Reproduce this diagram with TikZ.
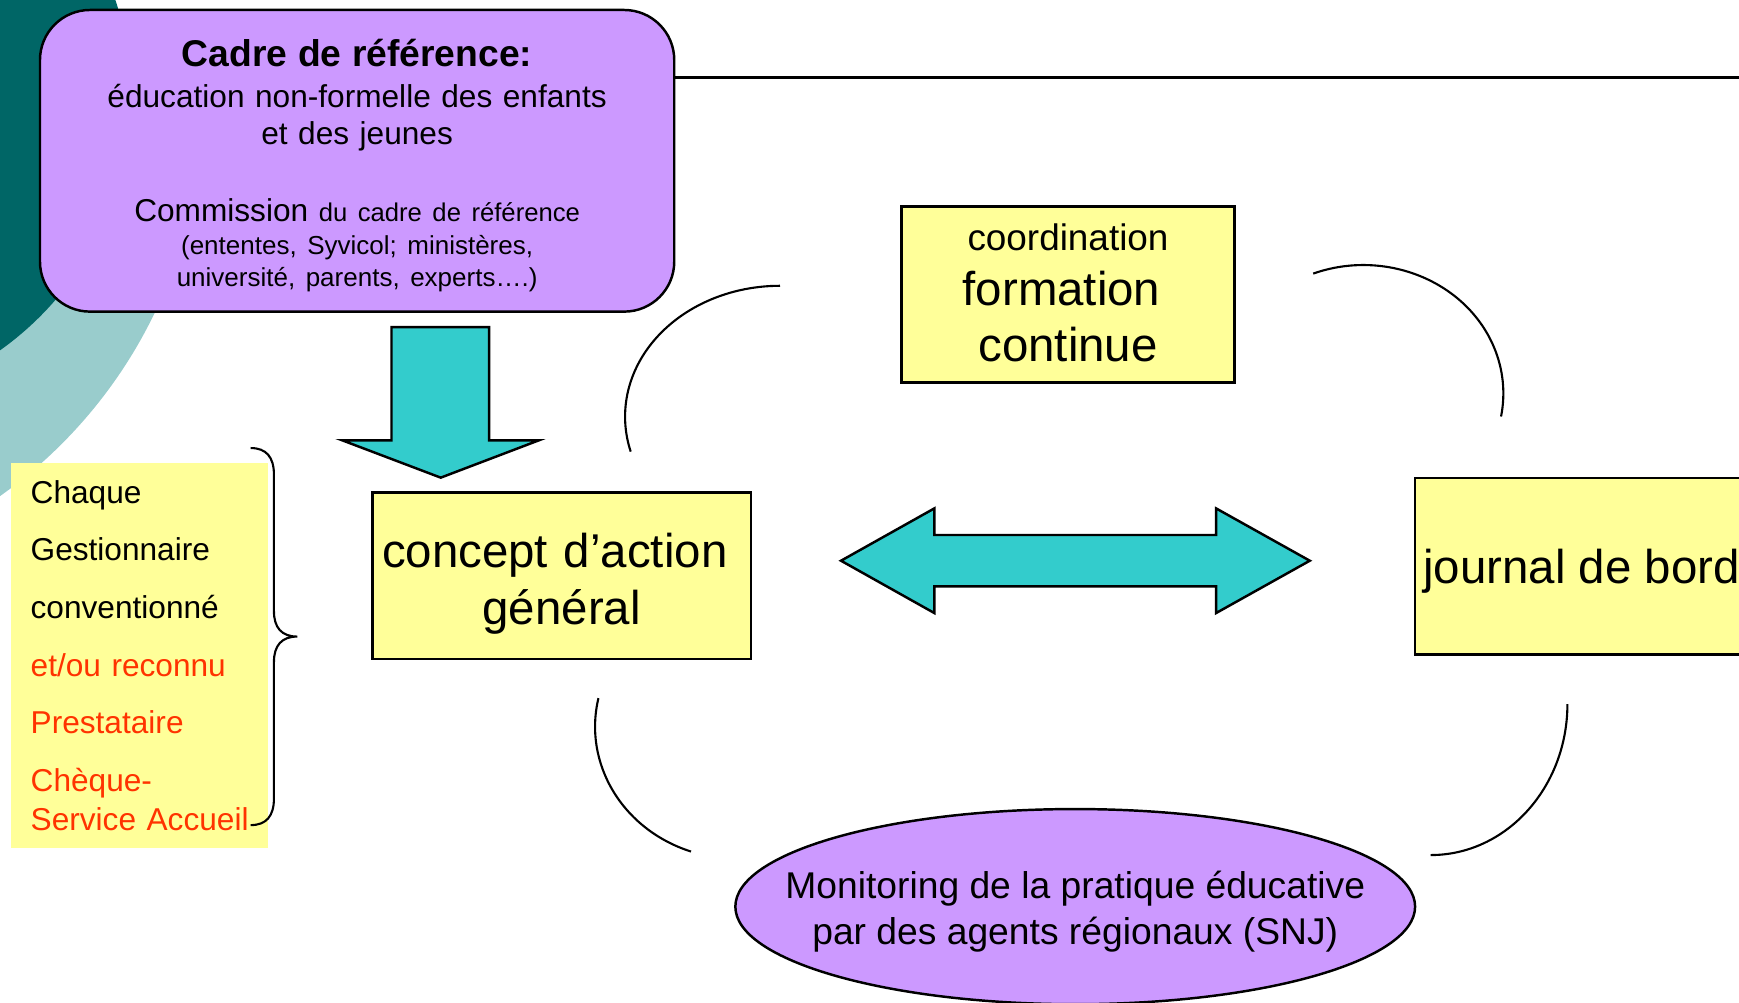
\documentclass[tikz,border=0pt]{standalone}
\usepackage{fontspec}
\setmainfont{Liberation Sans}
\usetikzlibrary{shapes.geometric}

\definecolor{lilac}{HTML}{CC99FF}
\definecolor{paleyellow}{HTML}{FFFF99}
\definecolor{arrowteal}{HTML}{33CCCC}
\definecolor{deepteal}{HTML}{006666}
\definecolor{softteal}{HTML}{99CCCC}
\definecolor{prestred}{HTML}{FF3300}

\tikzset{
  yellowbox/.style={draw=black, line width=0.7pt, fill=paleyellow, inner sep=0pt},
  boxtext/.style={inner sep=0pt, align=center},
  blockarrow/.style={draw=black, line width=0.7pt, fill=arrowteal, line join=miter},
  cyclearc/.style={black, line width=0.6pt},
}

\begin{document}
\begin{tikzpicture}[x=0.011091cm, y=-0.011091cm]
  \useasboundingbox (0,0) rectangle (1568,903.5);
  \clip (0,0) rectangle (1568,903.5);

  % background circles
  \begin{scope}
    \clip (0,150) rectangle (400,903.5);
    \fill[softteal] (-250,95) circle (432);
  \end{scope}
  \fill[deepteal] (-162,87.5) circle (280);

  % frame of reference
  \node[draw=black, line width=0.7pt, fill=lilac, rounded corners=0.5cm,
        minimum width=6.344cm, minimum height=3.017cm, inner sep=0pt] (cadre) at (322,145) {};
  \node[boxtext, text width=6cm, font=\fontsize{9}{10.6}\selectfont] (cadretext) at (322,149)
    {{\fontsize{10.6}{12}\selectfont\bfseries Cadre de référence:}\\[1.07pt]
     éducation non-formelle des enfants\\
     et des jeunes\\[11.2pt]
     Commission {\fontsize{7.3}{9}\selectfont du cadre de référence}\\[-1.13pt]
     {\fontsize{7.4}{9}\selectfont (ententes, Syvicol; ministères,}\\[-1.6pt]
     {\fontsize{7.4}{9}\selectfont université, parents, experts….)}};
  \coordinate (rim) at (1568,70);
  \draw[line width=0.8pt] (cadre.east |- rim) -- (rim);

  % providers
  \node[fill=paleyellow, anchor=north west, minimum width=2.573cm, minimum height=3.849cm,
        inner xsep=0.2cm, inner ysep=0pt, text width=2.173cm, align=left,
        font=\fontsize{9}{11.2}\selectfont] (gestbox) at (9,417)
    {Chaque\\[5.2pt]
     Gestionnaire\\[5.2pt]
     conventionné\\[5.2pt]
     \textcolor{prestred}{et/ou reconnu}\\[5.2pt]
     \textcolor{prestred}{Prestataire}\\[5.2pt]
     \textcolor{prestred}{Chèque-}\\
     \textcolor{prestred}{\mbox{Service Accueil}}};
  \draw[line width=0.6pt] (226,404) .. controls (240,404) and (247,412) .. (247,428) -- (247,551)
    .. controls (247,566) and (254,574) .. (268,574)
    .. controls (254,574) and (247,582) .. (247,597) -- (247,720)
    .. controls (247,736) and (240,744) .. (226,744);

  % boxes
  \node[yellowbox, minimum width=3.327cm, minimum height=1.763cm] (formbox) at (963,265.5) {};
  \node[boxtext, text width=3.2cm, font=\fontsize{13.5}{16}\selectfont] (formtext) at (963,264.5)
    {{\fontsize{10.5}{12}\selectfont coordination}\\[-0.4pt]
     formation\rule{0.13cm}{0pt}\\ continue};
  \node[yellowbox, minimum width=3.782cm, minimum height=1.664cm] (conceptbox) at (506.5,519) {};
  \node[boxtext, text width=3.7cm, font=\fontsize{13.5}{16.4}\selectfont] (concepttext) at (506.5,526.5)
    {concept d’action\rule{0.14cm}{0pt}\\ général};
  \node[yellowbox, minimum width=3.327cm, minimum height=1.763cm] (journal) at (1426,510.5) {};
  \node[boxtext, font=\fontsize{13.5}{16}\selectfont] (journaltext) at (1426,515)
    {journal de bord};

  % block arrows
  \draw[blockarrow] (353,295) -- (441,295) -- (441,397) -- (486,397) -- (397.4,430.7)
    -- (308.5,397) -- (353,397) -- cycle;
  \draw[blockarrow] (758.3,505.6) -- (842.5,458.4) -- (842.5,482.4) -- (1096.5,482.4)
    -- (1096.5,458.4) -- (1181,505.6) -- (1096.5,552.8) -- (1096.5,528.8)
    -- (842.5,528.8) -- (842.5,552.8) -- cycle;

  % cycle arcs
  \draw[cyclearc] (703.3,257.7) arc (270:164.5:139.7 and 118);
  \draw[cyclearc] (1184.1,246.7) arc (249:370.4:126.2 and 115.7);
  \draw[cyclearc] (539.6,629.5) arc (192.5:108.9:128 and 119);
  \draw[cyclearc] (1413.3,634.8) arc (0:90:123.3 and 136.2);

  % monitoring
  \node[ellipse, draw=black, line width=0.7pt, fill=lilac, minimum width=6.799cm,
        minimum height=1.952cm, inner sep=0pt] (monitor) at (969.5,817.5) {};
  \node[boxtext, font=\fontsize{10.6}{12.6}\selectfont] (monitortext) at (969.5,822)
    {Monitoring de la pratique éducative\\[0.3pt] par des agents régionaux (SNJ)};
\end{tikzpicture}
\end{document}
